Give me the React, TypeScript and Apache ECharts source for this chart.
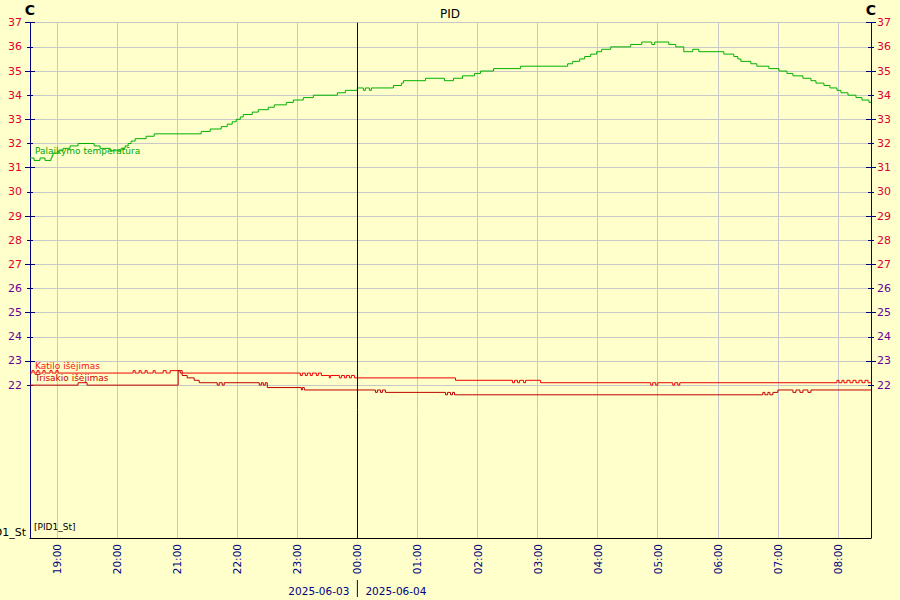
import React, { useEffect, useRef } from 'react';
import * as echarts from 'echarts';

// ---- data ----
const tempTimes = ['18:33','18:37','18:43','18:48','18:54','18:55','18:56','19:02','19:06','19:13','19:21','19:37','19:43','19:53','20:04','20:08','20:11','20:14','20:18','20:29','20:37','21:24','21:33','21:44','21:50','21:55','21:59','22:03','22:06','22:15','22:21','22:31','22:37','22:49','22:56','23:06','23:16','23:40','23:48','00:00','00:06','00:08','00:12','00:14','00:36','00:44','00:46','01:08','01:27','01:36','01:45','01:57','02:03','02:16','02:43','03:30','03:35','03:42','03:47','03:53','03:59','04:04','04:13','04:33','04:44','04:54','04:57','05:11','05:18','05:26','05:35','05:41','06:06','06:16','06:20','06:23','06:33','06:39','06:51','07:01','07:09','07:15','07:25','07:33','07:38','07:46','07:52','07:59','08:03','08:10','08:18','08:24','08:31','08:33'];
const tempValues = [31.4,31.3,31.4,31.3,31.4,31.5,31.6,31.7,31.8,31.9,32.0,31.9,31.8,31.7,31.8,31.9,32.0,32.1,32.2,32.3,32.4,32.5,32.6,32.7,32.8,32.9,33.0,33.1,33.2,33.3,33.4,33.5,33.6,33.7,33.8,33.9,34.0,34.1,34.2,34.3,34.2,34.3,34.2,34.3,34.4,34.5,34.6,34.7,34.6,34.7,34.8,34.9,35.0,35.1,35.2,35.3,35.4,35.5,35.6,35.7,35.8,35.9,36.0,36.1,36.2,36.1,36.2,36.1,36.0,35.8,35.9,35.8,35.7,35.6,35.5,35.4,35.3,35.2,35.1,35.0,34.9,34.8,34.7,34.6,34.5,34.4,34.3,34.2,34.1,34.0,33.9,33.8,33.7,33.7];

const katiloTimes = ['18:33','18:35','18:37','18:40','18:42','18:46','18:48','18:53','18:55','18:59','19:01','20:16','20:18','20:22','20:24','20:28','20:30','20:36','20:38','20:46','20:49','20:53','21:05','23:03','23:05','23:08','23:10','23:13','23:15','23:19','23:21','23:24','23:32','23:33','23:42','23:44','23:47','23:49','23:52','23:54','23:57','01:38','02:35','02:37','02:40','02:42','02:46','02:48','03:03','04:53','04:55','04:58','05:00','05:15','05:17','05:20','05:22','07:59','08:01','08:04','08:06','08:09','08:12','08:15','08:18','08:21','08:24','08:27','08:30','08:33'];
const katiloValues = [22.5,22.6,22.5,22.6,22.5,22.6,22.5,22.6,22.5,22.6,22.5,22.6,22.5,22.6,22.5,22.6,22.5,22.6,22.5,22.6,22.5,22.6,22.5,22.4,22.5,22.4,22.5,22.4,22.5,22.4,22.5,22.4,22.3,22.4,22.3,22.4,22.3,22.4,22.3,22.4,22.3,22.2,22.1,22.2,22.1,22.2,22.1,22.2,22.1,22.0,22.1,22.0,22.1,22.0,22.1,22.0,22.1,22.2,22.1,22.2,22.1,22.2,22.1,22.2,22.1,22.2,22.1,22.2,22.1,22.1];

const trisakioTimes = ['18:33','19:21','19:30','21:01','21:03','21:05','21:10','21:17','21:22','21:40','21:42','21:45','21:47','22:22','22:24','22:26','22:28','22:30','23:04','23:05','23:07','00:18','00:20','00:23','00:25','00:28','01:28','01:30','01:33','01:35','01:37','06:45','06:47','06:50','06:52','06:55','07:00','07:15','07:18','07:22','07:25','07:30','07:33','07:38','08:33'];
const trisakioValues = [22.0,22.1,22.0,22.6,22.5,22.4,22.3,22.2,22.1,22.0,22.1,22.0,22.1,22.0,22.1,22.0,22.1,21.9,21.8,21.9,21.8,21.7,21.8,21.7,21.8,21.7,21.6,21.7,21.6,21.7,21.6,21.7,21.6,21.7,21.6,21.7,21.8,21.7,21.8,21.7,21.8,21.7,21.8,21.8,21.8];

const yTickValues = [22,23,24,25,26,27,28,29,30,31,32,33,34,35,36,37];
const yLongTickValues = [23,25,27,29,31,33,35,37];
const seriesNames = ['Palaikymo temperatūra', 'Katilo išėjimas', 'Trisakio išėjimas', 'PID1_St'];
const dateLabels = ['2025-06-03', '2025-06-04'];

// ---- helpers ----
function toTs(hhmm: string): number {
  const [h, m] = hhmm.split(':').map(Number);
  const day = h >= 12 ? 3 : 4;
  return new Date(2025, 5, day, h, m).getTime();
}
const X_MIN = toTs('18:33');
const X_MAX = toTs('08:33');
const MIDNIGHT = new Date(2025, 5, 4, 0, 0).getTime();

const NAVY = '#000080';
const GRID_GRAY = '#C8C8C8';
const FONT = 'DejaVu Sans';

function pad(n: number) { return n < 10 ? '0' + n : '' + n; }

function buildData(times: string[], values: number[], name: string, color: string) {
  return times.map((t, i) => {
    const item: any = { value: [toTs(t), values[i]] };
    if (i === 0) {
      item.label = {
        show: true,
        formatter: name,
        position: [5, -7],
        align: 'left',
        verticalAlign: 'middle',
        color,
        fontSize: 9,
        fontFamily: FONT,
      };
    }
    return item;
  });
}

function tickAxis(gridIndex: number, position: string, inside: boolean, values: number[], length: number) {
  return {
    type: 'value',
    gridIndex,
    position,
    min: 21,
    max: 37,
    interval: 1,
    axisLine: { show: false },
    axisLabel: { show: false },
    splitLine: { show: false },
    axisTick: { show: true, inside, length, customValues: values, lineStyle: { color: NAVY, width: 1 } },
  };
}

function mainYAxis(position: string, margin: number) {
  return {
    type: 'value',
    gridIndex: 0,
    position,
    min: 21,
    max: 37,
    interval: 1,
    name: 'C',
    nameLocation: 'end',
    nameGap: 2,
    nameTextStyle: { color: '#000', fontSize: 14, fontWeight: 'bold', fontFamily: FONT },
    axisLine: { show: true, lineStyle: { color: NAVY, width: 1 } },
    axisTick: { show: true, inside: false, length: 3, customValues: yTickValues, lineStyle: { color: NAVY } },
    axisLabel: {
      show: true,
      customValues: yTickValues,
      margin,
      fontSize: 11,
      fontFamily: FONT,
      formatter: (v: number) => (v === 21 ? '' : (v >= 27 ? '{r|' + v + '}' : '{p|' + v + '}')),
      rich: {
        r: { color: '#DD0030', fontSize: 11, fontFamily: FONT },
        p: { color: '#6A0099', fontSize: 11, fontFamily: FONT },
      },
    },
    splitLine: { show: true, lineStyle: { color: GRID_GRAY, width: 1 } },
  };
}

const midnightMarkLine = {
  symbol: 'none',
  silent: true,
  label: { show: false },
  lineStyle: { color: '#000060', width: 1, type: 'solid' },
  data: [{ xAxis: MIDNIGHT }],
};

function timeAxis(gridIndex: number, showLabels: boolean) {
  return {
    type: 'time',
    gridIndex,
    min: X_MIN,
    max: X_MAX,
    minInterval: 3600 * 1000,
    maxInterval: 3600 * 1000,
    splitNumber: 14,
    axisLine: { show: showLabels, onZero: false, lineStyle: { color: '#000', width: 1 } },
    axisTick: { show: false },
    axisLabel: {
      show: showLabels,
      rotate: 90,
      margin: 6,
      color: NAVY,
      fontSize: 10.5,
      fontFamily: FONT,
      showMinLabel: false,
      showMaxLabel: false,
      hideOverlap: false,
      formatter: (v: number) => {
        const d = new Date(v);
        return pad(d.getHours()) + ':' + pad(d.getMinutes());
      },
    },
    splitLine: { show: true, lineStyle: { color: GRID_GRAY, width: 1 } },
  };
}

export default function App() {
  const ref = useRef<HTMLDivElement>(null);

  useEffect(() => {
    if (!ref.current) return;
    const chart = echarts.init(ref.current, undefined, { renderer: 'svg' });

    const option: any = {
      animation: false,
      backgroundColor: '#FFFFCC',
      title: {
        text: 'PID',
        left: 'center',
        top: 3,
        textStyle: { color: '#000', fontSize: 12, fontWeight: 'normal', fontFamily: FONT },
      },
      grid: [
        { left: 30, right: 29, top: 22.7, height: 386.6, containLabel: false, outerBoundsMode: 'none' },
        { left: 30, right: 29, top: 409.3, bottom: 62, containLabel: false, outerBoundsMode: 'none' },
      ],
      xAxis: [timeAxis(0, false), timeAxis(1, true)],
      yAxis: [
        mainYAxis('left', 8),
        tickAxis(0, 'left', true, yTickValues, 3),
        tickAxis(0, 'left', false, yLongTickValues, 5),
        tickAxis(0, 'left', true, yLongTickValues, 5),
        mainYAxis('right', 6),
        tickAxis(0, 'right', true, yTickValues, 3),
        tickAxis(0, 'right', false, yLongTickValues, 5),
        tickAxis(0, 'right', true, yLongTickValues, 5),
        {
          type: 'value',
          gridIndex: 1,
          position: 'left',
          min: 0,
          max: 1,
          axisLine: { show: true, lineStyle: { color: NAVY } },
          axisTick: { show: false },
          splitLine: { show: false },
          axisLabel: {
            show: true,
            customValues: [0],
            margin: 4,
            color: '#000',
            fontSize: 11,
            fontFamily: FONT,
            verticalAlign: 'bottom',
            formatter: () => seriesNames[3],
          },
        },
        {
          type: 'value',
          gridIndex: 1,
          position: 'right',
          min: 0,
          max: 1,
          axisLine: { show: true, lineStyle: { color: NAVY } },
          axisTick: { show: false },
          splitLine: { show: false },
          axisLabel: { show: false },
        },
      ],
      series: [
        {
          name: seriesNames[0],
          type: 'line',
          xAxisIndex: 0,
          yAxisIndex: 0,
          step: 'end',
          symbol: 'circle',
          symbolSize: 0,
          showSymbol: true,
          silent: true,
          lineStyle: { color: '#00B000', width: 1 },
          itemStyle: { color: '#00B000' },
          label: { show: false },
          data: buildData(tempTimes, tempValues, seriesNames[0], '#00A800'),
          markLine: midnightMarkLine,
          z: 4,
        },
        {
          name: seriesNames[1],
          type: 'line',
          xAxisIndex: 0,
          yAxisIndex: 0,
          step: 'end',
          symbol: 'circle',
          symbolSize: 0,
          showSymbol: true,
          silent: true,
          lineStyle: { color: '#EE0000', width: 1 },
          itemStyle: { color: '#EE0000' },
          label: { show: false },
          data: buildData(katiloTimes, katiloValues, seriesNames[1], '#FF1010'),
          z: 3,
        },
        {
          name: seriesNames[2],
          type: 'line',
          xAxisIndex: 0,
          yAxisIndex: 0,
          step: 'end',
          symbol: 'circle',
          symbolSize: 0,
          showSymbol: true,
          silent: true,
          lineStyle: { color: '#C00000', width: 1 },
          itemStyle: { color: '#C00000' },
          label: { show: false },
          data: buildData(trisakioTimes, trisakioValues, seriesNames[2], '#CC0000'),
          z: 3,
        },
        {
          name: seriesNames[3],
          type: 'line',
          xAxisIndex: 1,
          yAxisIndex: 8,
          showSymbol: false,
          silent: true,
          data: [],
          markLine: midnightMarkLine,
        },
      ],
    };

    chart.setOption(option);

    const midX = chart.convertToPixel({ xAxisIndex: 1 }, MIDNIGHT) as number;
    const grid1Left = chart.convertToPixel({ xAxisIndex: 1 }, X_MIN) as number;
    const grid1Bottom = chart.convertToPixel({ yAxisIndex: 8 }, 0) as number;
    chart.setOption({
      graphic: [
        {
          type: 'text',
          x: grid1Left + 4,
          y: grid1Bottom - 11,
          style: { text: '[' + seriesNames[3] + ']', fill: '#000', font: `9px "${FONT}"`, textAlign: 'left', textVerticalAlign: 'middle' },
        },
        {
          type: 'text',
          x: midX - 8,
          y: 591,
          style: { text: dateLabels[0], fill: NAVY, font: `10.5px "${FONT}"`, textAlign: 'right', textVerticalAlign: 'middle' },
        },
        {
          type: 'line',
          shape: { x1: midX, y1: 580, x2: midX, y2: 597 },
          style: { stroke: NAVY, lineWidth: 1 },
        },
        {
          type: 'text',
          x: midX + 8,
          y: 591,
          style: { text: dateLabels[1], fill: NAVY, font: `10.5px "${FONT}"`, textAlign: 'left', textVerticalAlign: 'middle' },
        },
      ],
    });

    return () => chart.dispose();
  }, []);

  return (
    <div
      ref={ref}
      style={{ position: 'fixed', left: 0, top: 0, width: 900, height: 600 }}
    />
  );
}
